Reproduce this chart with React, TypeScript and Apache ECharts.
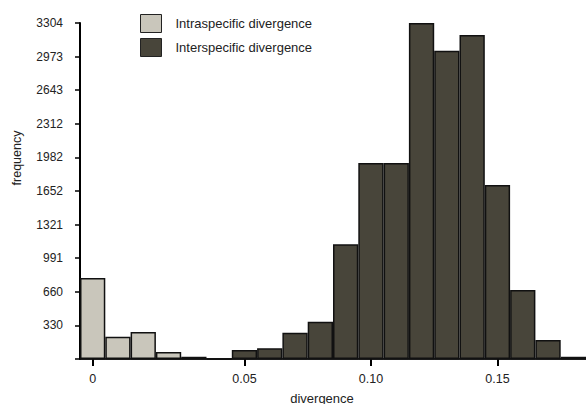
import React, { useEffect, useRef } from "react";
import * as echarts from "echarts";

const categories = [
  "0", "0.01", "0.02", "0.03", "0.04", "gap",
  "0.05", "0.06", "0.07", "0.08", "0.09", "0.10", "0.11", "0.12",
  "0.13", "0.14", "0.15", "0.16", "0.17", "0.18",
];
const xTickCats = ["0", "0.05", "0.10", "0.15"];
const intraValues = [796, 219, 265, 69, 0, 0, 0, 0, 0, 0, 0, 0, 0, 0, 0, 0, 0, 0, 0, 0];
const interValues = [0, 0, 0, 0, 22, 0, 88, 105, 259, 367, 1128, 1927, 1927, 3304, 3032, 3186, 1711, 678, 187, 22];
const yTickLabels = ["", "330", "660", "991", "1321", "1652", "1982", "2312", "2643", "2973", "3304"];
const yMax = 3304;
const yStep = 330.4;

const FONT = "'Liberation Sans', Arial, sans-serif";

export default function App() {
  const ref = useRef<HTMLDivElement>(null);
  useEffect(() => {
    if (!ref.current) return;
    const chart = echarts.init(ref.current, null, { renderer: "svg" });
    const showCat = (i: number) => xTickCats.includes(categories[i]);
    chart.setOption({
      animation: false,
      backgroundColor: "#ffffff",
      textStyle: { fontFamily: FONT },
      grid: { left: 80, right: 0, top: 23, bottom: 45, containLabel: false },
      legend: {
        orient: "vertical",
        left: 135,
        top: 9,
        itemWidth: 21,
        itemHeight: 18,
        itemGap: 5,
        icon: "rect",
        itemStyle: { borderColor: "#222", borderWidth: 1 },
        textStyle: { fontFamily: FONT, fontSize: 13, color: "#222", padding: [0, 0, 0, 9] },
        data: ["Intraspecific divergence", "Interspecific divergence"],
      },
      xAxis: {
        type: "category",
        data: categories,
        boundaryGap: true,
        axisLine: { lineStyle: { color: "#000", width: 1.5 } },
        axisTick: { show: true, alignWithLabel: true, length: 7, interval: (i: number) => showCat(i), lineStyle: { color: "#000", width: 2 } },
        axisLabel: {
          interval: (i: number) => showCat(i),
          formatter: (v: string) => (xTickCats.includes(v) ? v : ""),
          margin: 13,
          fontSize: 12.5,
          color: "#222",
          fontFamily: FONT,
        },
        splitLine: { show: false },
      },
      yAxis: {
        type: "value",
        min: 0,
        max: yMax,
        interval: yStep,
        axisLine: { show: true, lineStyle: { color: "#000", width: 2 } },
        axisTick: { show: true, length: 5, lineStyle: { color: "#000", width: 1.5 } },
        axisLabel: {
          formatter: (v: number) => yTickLabels[Math.round(v / yStep)] ?? "",
          margin: 17,
          fontSize: 12,
          color: "#222",
          fontFamily: FONT,
        },
        splitLine: { show: false },
      },
      graphic: [
        {
          type: "text",
          x: 17,
          y: 158,
          rotation: Math.PI / 2,
          style: { text: "frequency", fontSize: 12.5, fontFamily: FONT, fill: "#222", align: "center", verticalAlign: "middle" },
        },
        {
          type: "text",
          x: 322,
          y: 398,
          style: { text: "divergence", fontSize: 13, fontFamily: FONT, fill: "#222", align: "center", verticalAlign: "middle" },
        },
      ],
      series: [
        {
          name: "Intraspecific divergence",
          type: "bar",
          data: intraValues,
          barGap: "-100%",
          barCategoryGap: 0,
          itemStyle: { color: "#c9c6bb", borderColor: "#111", borderWidth: 1.5 },
        },
        {
          name: "Interspecific divergence",
          type: "bar",
          data: interValues,
          barGap: "-100%",
          barCategoryGap: 0,
          itemStyle: { color: "#48453a", borderColor: "#111", borderWidth: 1.5 },
        },
      ],
    });
    return () => chart.dispose();
  }, []);
  return <div ref={ref} style={{ position: "absolute", left: 0, top: 0, width: 586, height: 404 }} />;
}
